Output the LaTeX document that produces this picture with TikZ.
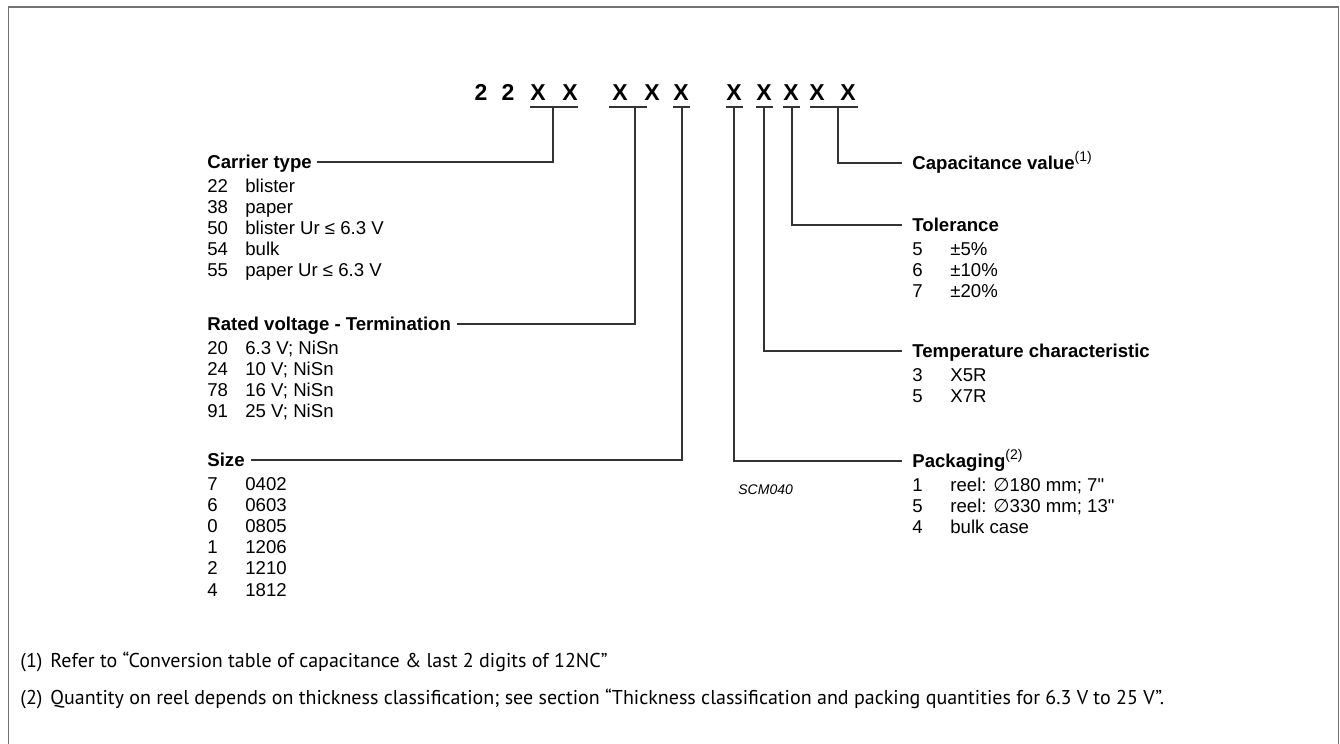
\documentclass[tikz,border=0pt]{standalone}
\usepackage{fontspec}
\setmainfont{Liberation Sans}
\newfontfamily\notefont{PT Sans}
\newfontfamily\diafont{DejaVu Sans}
\newfontfamily\inchfont{Liberation Sans}[Ligatures=TeXOff]
\newcommand\noteref[1]{\raisebox{3.6pt}{\fontsize{7}{8}\selectfont\mdseries(#1)}}
\newcommand\inch{{\inchfont"}}
\begin{document}
\begin{tikzpicture}[x=.5pt, y=-.5pt,
  every node/.style={font=\fontsize{9.3}{11}\selectfont, inner sep=0, anchor=base west},
  code/.style={font=\fontsize{11.5}{13}\selectfont\bfseries, anchor=base},
  head/.style={font=\fontsize{9.3}{11}\selectfont\bfseries, text height=6pt, text depth=0pt},
  link/.style={draw=black!80, line width=.6pt}]
  \useasboundingbox (0,0) rectangle (1340,744);
  \draw[black!55, line width=.8pt] (8.5,744) -- (8.5,7) -- (1338.5,7) -- (1338.5,744);
  \foreach \c/\x [count=\i] in {2/481,2/508,X/538,X/570,X/620,X/652,X/681,X/734,X/764,X/791,X/817,X/848}
    \node[code] (c\i) at (\x,100) {\c};
  \foreach \a/\b in {530/578,609/647,673/690,726/743,756/773,783/800,810/858}
    \draw[link] (\a,107) -- (\b,107);
  \coordinate (u1) at (553,107); \coordinate (u2) at (635,107); \coordinate (u3) at (682,107);
  \coordinate (u4) at (734,107); \coordinate (u5) at (764,107); \coordinate (u6) at (792,107);
  \coordinate (u7) at (838,107);
  \node[head] (carrier) at (207,168) {Carrier type};
  \node[head] (rated) at (207,330) {Rated voltage - Termination};
  \node[head] (size) at (207,466) {Size};
  \node[head] (cap) at (912,169) {Capacitance value\noteref{1}};
  \node[head] (tol) at (912,231) {Tolerance};
  \node[head] (temp) at (912,357) {Temperature characteristic};
  \node[head] (pack) at (912,467) {Packaging\noteref{2}};
  \draw[link, shorten >=2.5pt] (u1) |- (carrier.east);
  \draw[link, shorten >=3pt] (u2) |- (rated.east);
  \draw[link, shorten >=3pt] (u3) |- (size.east);
  \draw[link, shorten >=5pt] (u4) |- (pack.west);
  \draw[link, shorten >=5pt] (u5) |- (temp.west);
  \draw[link, shorten >=5pt] (u6) |- (tol.west);
  \draw[link, shorten >=5pt] (u7) |- (cap.west);
  \foreach \n/\t [count=\i] in {22/blister, 38/paper, 50/{blister Ur ≤ 6.3 V}, 54/bulk, 55/{paper Ur ≤ 6.3 V}} {
    \node (carrier-n\i) at (207,{170.8+21.2*\i}) {\n};
    \node (carrier-t\i) at (245,{170.8+21.2*\i}) {\t};
  }
  \foreach \n/\t [count=\i] in {20/{6.3 V; NiSn}, 24/{10 V; NiSn}, 78/{16 V; NiSn}, 91/{25 V; NiSn}} {
    \node (rated-n\i) at (207,{332.8+21.2*\i}) {\n};
    \node (rated-t\i) at (245,{332.8+21.2*\i}) {\t};
  }
  \foreach \n/\t [count=\i] in {7/0402, 6/0603, 0/0805, 1/1206, 2/1210, 4/1812} {
    \node (size-n\i) at (207,{468.8+21.2*\i}) {\n};
    \node (size-t\i) at (245,{468.8+21.2*\i}) {\t};
  }
  \foreach \n/\t [count=\i] in {5/{±5\%}, 6/{±10\%}, 7/{±20\%}} {
    \node (tol-n\i) at (912,{233.8+21.2*\i}) {\n};
    \node (tol-t\i) at (950,{233.8+21.2*\i}) {\t};
  }
  \foreach \n/\t [count=\i] in {3/X5R, 5/X7R} {
    \node (temp-n\i) at (912,{359.8+21.2*\i}) {\n};
    \node (temp-t\i) at (950,{359.8+21.2*\i}) {\t};
  }
  \foreach \n/\t [count=\i] in {1/{reel: {\diafont ∅}180 mm; 7\inch}, 5/{reel: {\diafont ∅}330 mm; 13\inch}, 4/bulk case} {
    \node (pack-n\i) at (912,{469.8+21.2*\i}) {\n};
    \node (pack-t\i) at (950,{469.8+21.2*\i}) {\t};
  }
  \node[font=\fontsize{7}{8}\selectfont\itshape] (scm) at (738,494) {SCM040};
  \node[font=\notefont\fontsize{10}{12}\selectfont] (note1) at (20,667)
    {(1)\hspace{4pt}Refer to “Conversion table of capacitance \& last 2 digits of 12NC”};
  \node[font=\notefont\fontsize{10}{12}\selectfont] (note2) at (20,704)
    {(2)\hspace{4pt}Quantity on reel depends on thickness classification; see section “Thickness classification and packing quantities for 6.3 V to 25 V”.};
\end{tikzpicture}
\end{document}
